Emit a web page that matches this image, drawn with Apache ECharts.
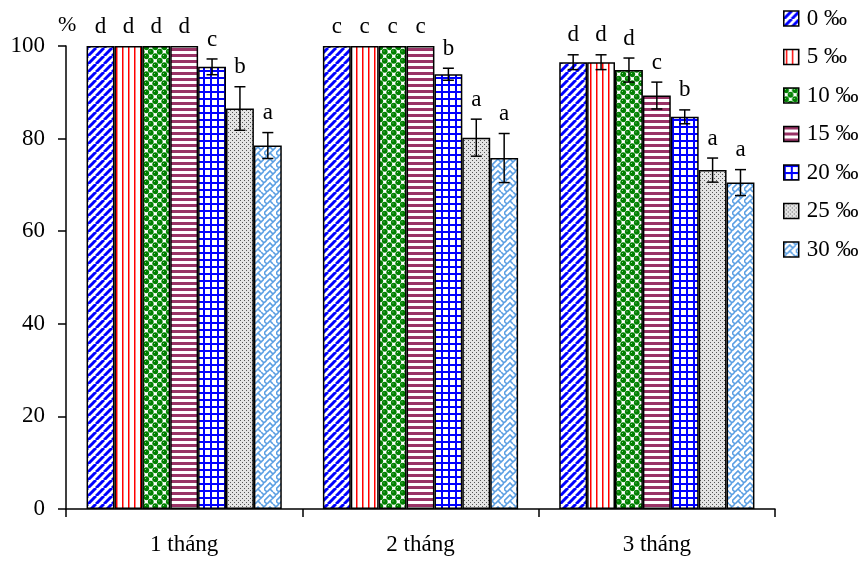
<!DOCTYPE html>
<html>
<head>
<meta charset="utf-8">
<script src="https://cdn.jsdelivr.net/npm/echarts@6/dist/echarts.min.js"></script>
<style>
  html, body { margin: 0; padding: 0; background: #fff; }
  #chart { width: 867px; height: 561px; }
</style>
</head>
<body>
<div id="chart"></div>
<script>
// Survival (%) by storage time and salinity level
const categories = ['1 tháng', '2 tháng', '3 tháng'];
const seriesNames = ['0 ‰', '5 ‰', '10 ‰', '15 ‰', '20 ‰', '25 ‰', '30 ‰'];

const s0 = [100, 100, 96.5];
const s5 = [100, 100, 96.5];
const s10 = [100, 100, 94.8];
const s15 = [100, 100, 89.3];
const s20 = [95.5, 93.9, 84.7];
const s25 = [86.5, 80.2, 73.2];
const s30 = [78.5, 75.8, 70.5];

const e0 = [0, 0, 1.6];
const e5 = [0, 0, 1.6];
const e10 = [0, 0, 2.6];
const e15 = [0, 0, 2.9];
const e20 = [1.7, 1.3, 1.5];
const e25 = [4.7, 4.0, 2.6];
const e30 = [2.8, 5.3, 2.8];

const l0 = ['d', 'c', 'd'];
const l5 = ['d', 'c', 'd'];
const l10 = ['d', 'c', 'd'];
const l15 = ['d', 'c', 'c'];
const l20 = ['c', 'b', 'b'];
const l25 = ['b', 'a', 'a'];
const l30 = ['a', 'a', 'a'];

const yTicks = [0, 20, 40, 60, 80, 100];

const values = [s0, s5, s10, s15, s20, s25, s30];
const errors = [e0, e5, e10, e15, e20, e25, e30];
const letters = [l0, l5, l10, l15, l20, l25, l30];

const FONT = 'Liberation Serif';
const CAT_GAP = 0.174;

// Fill patterns drawn on small canvases
function tile(w, h, draw) {
  const c = document.createElement('canvas');
  c.width = w; c.height = h;
  const g = c.getContext('2d');
  g.fillStyle = '#fff';
  g.fillRect(0, 0, w, h);
  draw(g, w, h);
  return { image: c, repeat: 'repeat' };
}

const patterns = [
  tile(8, 8, (g, w, h) => {
    g.strokeStyle = '#0000ff'; g.lineWidth = 3;
    for (const k of [-8, 0, 8]) { g.beginPath(); g.moveTo(k, h); g.lineTo(k + w, 0); g.stroke(); }
  }),
  tile(6, 6, (g, w, h) => { g.fillStyle = '#ff0000'; g.fillRect(2, 0, 1.5, h); }),
  tile(9, 9, (g) => {
    g.fillStyle = '#008000';
    for (const [x, y] of [[2.25, 2.25], [6.75, 6.75], [-2.25, 6.75], [6.75, -2.25], [11.25, 6.75], [6.75, 11.25], [2.25, 11.25], [11.25, 2.25]]) {
      g.beginPath(); g.arc(x, y, 2.9, 0, Math.PI * 2); g.fill();
    }
    g.fillStyle = '#8fd08f';
    g.fillRect(1, 1, 1, 1); g.fillRect(5.5, 5.5, 1, 1);
  }),
  tile(6, 6, (g, w) => { g.fillStyle = '#993366'; g.fillRect(0, 0, w, 3); }),
  tile(7, 7, (g, w, h) => { g.fillStyle = '#0000ff'; g.fillRect(0, 0, 2, h); g.fillRect(0, 0, w, 2); }),
  tile(4, 4, (g, w, h) => {
    g.fillStyle = '#e4e4e4'; g.fillRect(0, 0, w, h);
    g.fillStyle = '#555'; g.fillRect(0, 0, 1, 1); g.fillRect(2, 2, 1, 1);
  }),
  tile(12, 12, (g) => {
    g.strokeStyle = '#5b9fe3'; g.lineWidth = 1.6;
    g.beginPath();
    g.moveTo(0, 3); g.lineTo(3, 0);
    g.moveTo(0, 9); g.lineTo(6, 3); g.lineTo(9, 6); g.lineTo(12, 3);
    g.moveTo(3, 12); g.lineTo(6, 9); g.lineTo(9, 12);
    g.moveTo(9, 0); g.lineTo(12, 3);
    g.moveTo(0, 9); g.lineTo(3, 12);
    g.moveTo(9, 6); g.lineTo(6, 9);
    g.stroke();
  })
];

const chart = echarts.init(document.getElementById('chart'), null, { renderer: 'canvas' });

const barSeries = seriesNames.map((name, i) => ({
  name,
  type: 'bar',
  data: values[i],
  barGap: '0%',
  barCategoryGap: (CAT_GAP * 100) + '%',
  itemStyle: { color: patterns[i], borderColor: '#000', borderWidth: 1.5 },
  emphasis: { disabled: true },
  z: 2
}));

// Error bars and significance letters, one item per bar
const errData = [];
values.forEach((arr, s) => arr.forEach((v, c) => errData.push([c, s, v, errors[s][c]])));

const errSeries = {
  type: 'custom',
  name: 'err',
  data: errData,
  z: 5,
  silent: true,
  renderItem(params, api) {
    const cat = api.value(0), s = api.value(1), mean = api.value(2), err = api.value(3);
    const band = api.size([1, 0])[0];
    const total = band * (1 - CAT_GAP);
    const bw = total / seriesNames.length;
    const base = api.coord([cat, mean]);
    const x = base[0] - total / 2 + (s + 0.5) * bw;
    const children = [];
    let topY = base[1];
    if (err > 0) {
      const hi = api.coord([cat, mean + err])[1];
      const lo = api.coord([cat, mean - err])[1];
      const cap = 5.5;
      const st = { stroke: '#000', lineWidth: 1.5 };
      children.push({ type: 'line', shape: { x1: x, y1: hi, x2: x, y2: lo }, style: st });
      children.push({ type: 'line', shape: { x1: x - cap, y1: hi, x2: x + cap, y2: hi }, style: st });
      children.push({ type: 'line', shape: { x1: x - cap, y1: lo, x2: x + cap, y2: lo }, style: st });
      topY = hi;
    }
    const d = errData[params.dataIndex];
    children.push({
      type: 'text',
      style: {
        text: letters[d[1]][d[0]],
        x: x, y: topY - 8,
        align: 'center', verticalAlign: 'bottom',
        font: '23px "' + FONT + '"', fill: '#000'
      }
    });
    return { type: 'group', children };
  }
};

chart.setOption({
  animation: false,
  backgroundColor: '#fff',
  grid: { left: 66, right: 92, top: 46, bottom: 52, containLabel: false },
  legend: {
    data: seriesNames,
    orient: 'vertical',
    left: 778, top: 2,
    itemWidth: 15, itemHeight: 15,
    itemGap: 15.5,
    icon: 'rect',
    itemStyle: { borderColor: '#000', borderWidth: 1.5 },
    textStyle: { fontFamily: FONT, fontSize: 23, color: '#000', padding: [0, 0, 0, 3] },
    selectedMode: false
  },
  xAxis: {
    type: 'category',
    data: categories,
    axisLine: { lineStyle: { color: '#000', width: 1.5 } },
    axisTick: { show: true, length: 8, lineStyle: { color: '#000', width: 1.5 } },
    axisLabel: { fontFamily: FONT, fontSize: 23, color: '#000', margin: 24 },
    splitLine: { show: false }
  },
  yAxis: {
    type: 'value',
    min: yTicks[0], max: yTicks[yTicks.length - 1], interval: 20,
    axisLine: { show: true, lineStyle: { color: '#000', width: 1.5 } },
    axisTick: { show: true, length: 8, lineStyle: { color: '#000', width: 1.5 } },
    axisLabel: { fontFamily: FONT, fontSize: 23, color: '#000', margin: 21 },
    splitLine: { show: false }
  },
  graphic: [{
    type: 'text',
    left: 58, top: 14,
    style: { text: '%', font: '22px "' + FONT + '"', fill: '#000' }
  }],
  series: [...barSeries, errSeries]
});
</script>
</body>
</html>
